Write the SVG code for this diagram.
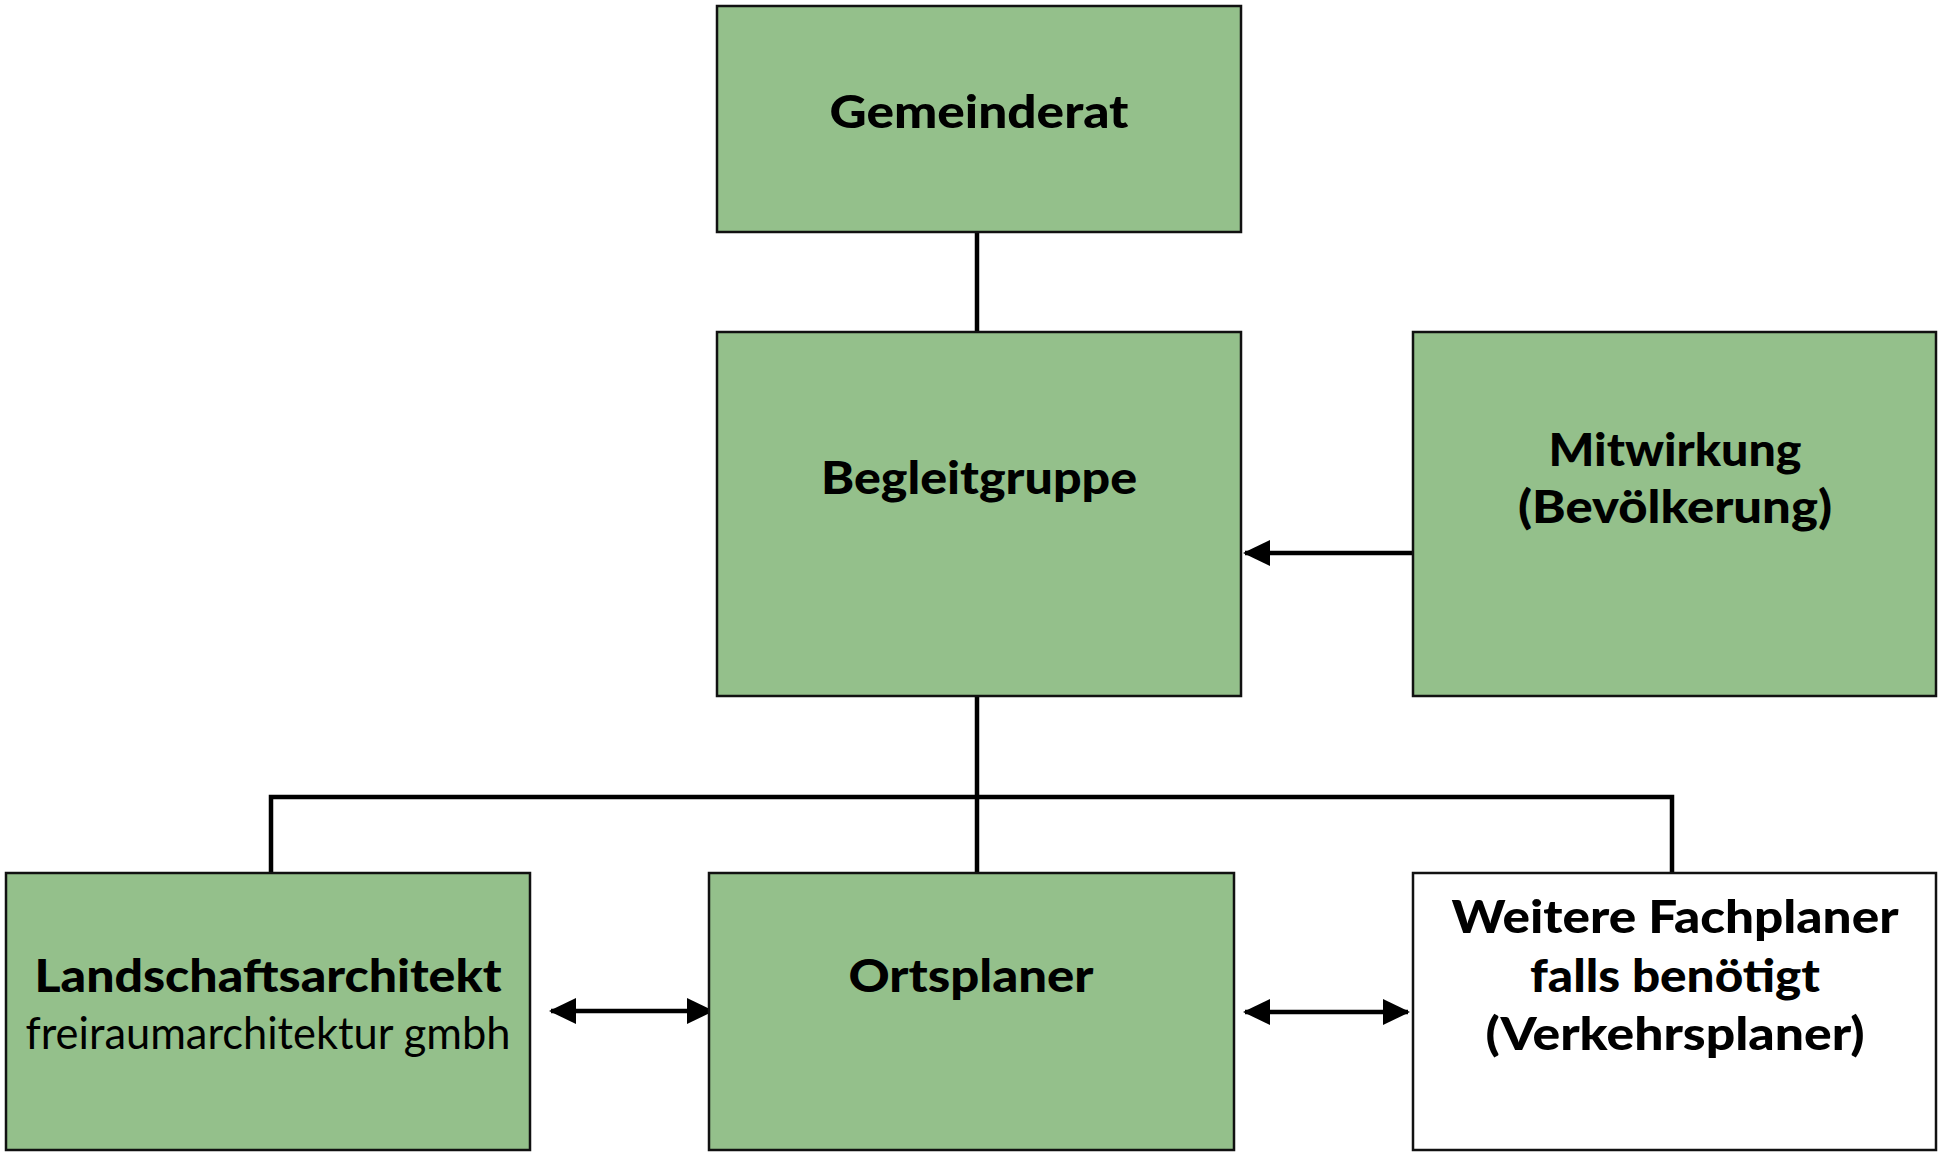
<svg xmlns="http://www.w3.org/2000/svg" width="1938" height="1154" viewBox="0 0 1938 1154">
<style>
.box{fill:#94c08b;stroke:#111;stroke-width:2.5}
.white{fill:#fff}
.t{font-family:Lato,"Liberation Sans",sans-serif;font-weight:900;font-size:45px;fill:#000;text-anchor:middle}
.n{font-weight:normal;font-size:44px}
.c{stroke:#000;stroke-width:4.5;fill:none}
</style>
<defs>
<marker id="ah" markerUnits="userSpaceOnUse" markerWidth="28" markerHeight="28" refX="25" refY="13" orient="auto-start-reverse" viewBox="0 0 28 26">
<path d="M0,0 L27,13 L0,26 Z" fill="#000"/>
</marker>
</defs>
<rect width="1938" height="1154" fill="#fff"/>
<g id="connectors">
<line class="c" x1="977" y1="232" x2="977" y2="332"/>
<line class="c" x1="977" y1="696" x2="977" y2="873"/>
<polyline class="c" points="271,873 271,797 1672,797 1672,873"/>
<line class="c" x1="1413" y1="553" x2="1245" y2="553" marker-end="url(#ah)"/>
<line class="c" x1="551" y1="1011" x2="712" y2="1011" marker-start="url(#ah)" marker-end="url(#ah)"/>
<line class="c" x1="1245" y1="1012" x2="1408" y2="1012" marker-start="url(#ah)" marker-end="url(#ah)"/>
</g>
<g id="gemeinderat">
<rect class="box" x="717" y="6" width="524" height="226"/>
<text class="t" x="979" y="128" textLength="299" lengthAdjust="spacingAndGlyphs">Gemeinderat</text>
</g>
<g id="begleitgruppe">
<rect class="box" x="717" y="332" width="524" height="364"/>
<text class="t" x="979" y="494" textLength="316" lengthAdjust="spacingAndGlyphs">Begleitgruppe</text>
</g>
<g id="mitwirkung">
<rect class="box" x="1413" y="332" width="523" height="364"/>
<text class="t" x="1675" y="466" textLength="253" lengthAdjust="spacingAndGlyphs">Mitwirkung</text>
<text class="t" x="1675" y="523" textLength="314" lengthAdjust="spacingAndGlyphs">(Bevölkerung)</text>
</g>
<g id="landschaftsarchitekt">
<rect class="box" x="6" y="873" width="524" height="277"/>
<text class="t" x="268" y="992" textLength="467" lengthAdjust="spacingAndGlyphs">Landschaftsarchitekt</text>
<text class="t n" x="268" y="1049" textLength="485" lengthAdjust="spacingAndGlyphs">freiraumarchitektur gmbh</text>
</g>
<g id="ortsplaner">
<rect class="box" x="709" y="873" width="525" height="277"/>
<text class="t" x="971" y="992" textLength="245" lengthAdjust="spacingAndGlyphs">Ortsplaner</text>
</g>
<g id="weitere">
<rect class="box white" x="1413" y="873" width="523" height="277"/>
<text class="t" x="1675" y="933" textLength="447" lengthAdjust="spacingAndGlyphs">Weitere Fachplaner</text>
<text class="t" x="1675" y="992" textLength="290" lengthAdjust="spacingAndGlyphs">falls benötigt</text>
<text class="t" x="1675" y="1050" textLength="379" lengthAdjust="spacingAndGlyphs">(Verkehrsplaner)</text>
</g>
</svg>
